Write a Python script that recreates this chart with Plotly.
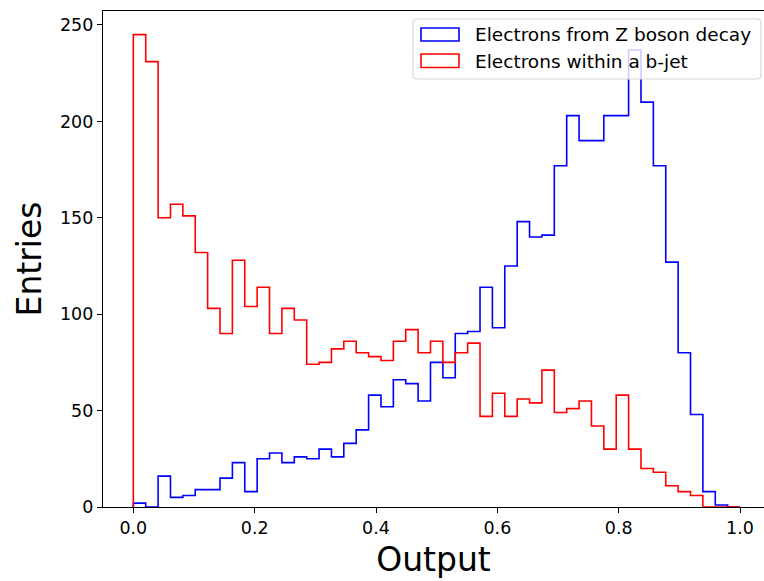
import numpy as np
import plotly.graph_objects as go

# ---- data (entries per bin, 49 equal bins spanning 0..1) ----
bin_lo, bin_hi = 0.0, 1.0
z_decay = [2, 0, 16, 5, 6, 9, 9, 15, 23, 8, 25, 28, 23, 26, 25, 30, 26, 33, 40, 58,
           52, 66, 64, 55, 75, 67, 90, 91, 114, 93, 125, 148, 140, 141, 177, 203, 190, 190,
           203, 203, 237, 210, 177, 127, 80, 48, 8, 1, 0]
b_jet = [245, 231, 150, 157, 151, 132, 103, 90, 128, 104, 114, 90, 103, 97, 74, 75, 82, 86,
         80, 78, 76, 86, 92, 80, 86, 75, 80, 85, 47, 59, 47, 56, 54, 71, 49, 51, 55, 42,
         30, 58, 30, 20, 18, 11, 8, 6, 0, 0, 0]
series_names = ["Electrons from Z boson decay", "Electrons within a b-jet"]
x_ticks = [0.0, 0.2, 0.4, 0.6, 0.8, 1.0]
y_ticks = [0, 50, 100, 150, 200, 250]

edges = np.linspace(bin_lo, bin_hi, len(z_decay) + 1)


def step_xy(counts):
    x = [edges[0]] + list(edges[:-1]) + [edges[-1]]
    y = [0] + list(counts) + [0]
    return x, y


FONT = "DejaVu Sans"
W, H = 764, 581
ML, MR, MT, MB = 103, 0, 11, 74
PW, PH = W - ML - MR, H - MT - MB

fig = go.Figure()
for counts, color, name in [(z_decay, "#0000ff", series_names[0]),
                            (b_jet, "#ff0000", series_names[1])]:
    xs, ys = step_xy(counts)
    fig.add_trace(go.Scatter(x=xs, y=ys, mode="lines", line=dict(color=color, width=1.6, shape="hv"),
                             name=name, showlegend=False, hoverinfo="skip"))

ymax = max(max(z_decay), max(b_jet)) * 1.05
x_left = -0.05
x_right = x_left + PW / 606.7   # 606.7 px per unit, right spine falls just outside the view

axis_common = dict(showline=True, linecolor="black", linewidth=1.2, ticks="outside", ticklen=5,
                   tickwidth=1.2, tickcolor="black", showgrid=False, zeroline=False,
                   tickfont=dict(family=FONT, size=17.5, color="black"))
fig.update_layout(
    width=W, height=H,
    margin=dict(l=ML, r=MR, t=MT, b=MB, pad=0),
    plot_bgcolor="white", paper_bgcolor="white",
    font=dict(family=FONT, color="black"),
    xaxis=dict(range=[x_left, x_right], tickvals=x_ticks, ticktext=[f"{v:.1f}" for v in x_ticks],
               mirror=True, title=dict(text="Output", font=dict(family=FONT, size=33, color="black"), standoff=10),
               **axis_common),
    yaxis=dict(range=[0, ymax], tickvals=y_ticks, ticktext=[str(v) for v in y_ticks],
               mirror=False, title=dict(text="Entries", font=dict(family=FONT, size=33, color="black"), standoff=8),
               **axis_common),
)


def px(xp):
    return (xp - ML) / PW


def py(yp):
    return (H - MB - yp) / PH


# legend frame (rounded, semi-transparent)
x0, x1, y0, y1 = px(413), px(761), py(79), py(19)
rx, ry = 4 / PW, 4 / PH
path = (f"M{x0+rx},{y0} L{x1-rx},{y0} Q{x1},{y0} {x1},{y0+ry} L{x1},{y1-ry} Q{x1},{y1} {x1-rx},{y1} "
        f"L{x0+rx},{y1} Q{x0},{y1} {x0},{y1-ry} L{x0},{y0+ry} Q{x0},{y0} {x0+rx},{y0} Z")
fig.add_shape(type="path", path=path, xref="paper", yref="paper", layer="above",
              fillcolor="rgba(255,255,255,0.8)", line=dict(color="#d6d6d6", width=1.2))

for (ytop, ybot, ytxt), color, name in [((28, 41, 35), "#0000ff", series_names[0]),
                                         ((54, 67.5, 61.5), "#ff0000", series_names[1])]:
    fig.add_shape(type="rect", xref="paper", yref="paper", layer="above",
                  x0=px(421), x1=px(459), y0=py(ybot), y1=py(ytop),
                  line=dict(color=color, width=1.6), fillcolor="rgba(0,0,0,0)")
    fig.add_annotation(text=name, xref="paper", yref="paper", x=px(472.5), y=py(ytxt),
                       xanchor="left", yanchor="middle", showarrow=False,
                       font=dict(family=FONT, size=18.5, color="black"))

fig.write_html("out.html")
